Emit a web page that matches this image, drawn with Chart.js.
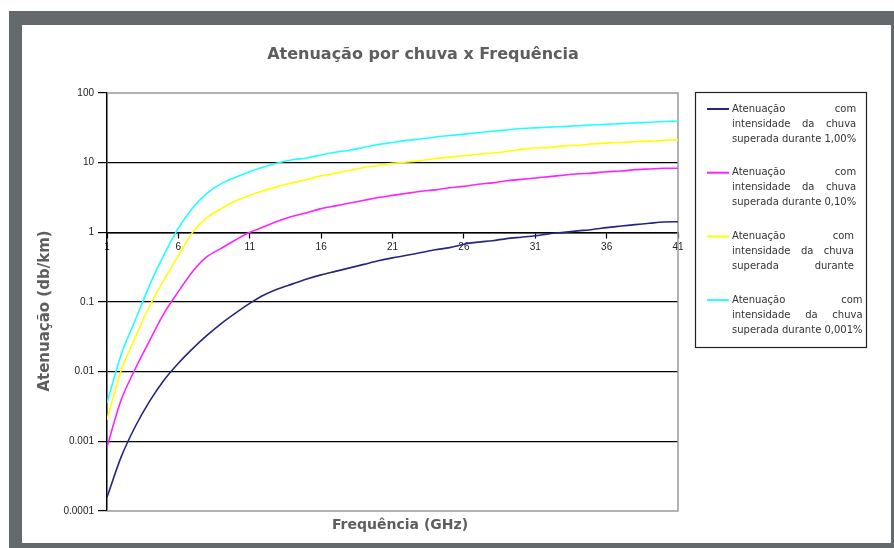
<!DOCTYPE html>
<html>
<head>
<meta charset="utf-8">
<script src="https://cdn.jsdelivr.net/npm/chart.js@4.4.0/dist/chart.umd.min.js"></script>
<style>
    html, body { margin: 0; padding: 0; background: #fff; }
    #moldura {
        position: absolute; left: 9px; top: 11px; width: 885px; height: 537px;
        box-sizing: border-box; border-style: solid; border-color: #646a6b;
        border-width: 14px 3px 5px 13px; background: #fff;
    }
    #grafico { position: absolute; left: 0; top: 0; }
</style>
</head>
<body>
<div id="moldura"></div>
<canvas id="grafico" width="894" height="548"></canvas>
<script>
// frequencia (GHz) 1..41
const frequencias = [1, 2, 3, 4, 5, 6, 7, 8, 9, 10, 11, 12, 13, 14, 15, 16, 17, 18, 19, 20, 21,
    22, 23, 24, 25, 26, 27, 28, 29, 30, 31, 32, 33, 34, 35, 36, 37, 38, 39, 40, 41];

// atenuacao (dB/km) para cada percentagem de tempo
const atenuacao_1 = [0.000158, 0.000603, 0.00166, 0.0038, 0.00759, 0.0132, 0.0214, 0.0331, 0.0490, 0.0692,
    0.0955, 0.126, 0.155, 0.182, 0.214, 0.245, 0.275, 0.309, 0.347, 0.390, 0.430, 0.468, 0.513, 0.562,
    0.603, 0.676, 0.724, 0.759, 0.813, 0.851, 0.891, 0.955, 1.00, 1.05, 1.10, 1.17, 1.23, 1.29, 1.35, 1.41, 1.42];
const atenuacao_01 = [0.00083, 0.00398, 0.0112, 0.0282, 0.0692, 0.141, 0.275, 0.447, 0.589, 0.776,
    1.00, 1.20, 1.45, 1.70, 1.91, 2.19, 2.40, 2.63, 2.88, 3.16, 3.39, 3.63, 3.89, 4.07, 4.37, 4.57,
    4.90, 5.13, 5.50, 5.75, 6.03, 6.31, 6.61, 6.92, 7.08, 7.41, 7.59, 7.94, 8.13, 8.32, 8.32];
const atenuacao_001 = [0.00204, 0.0105, 0.0316, 0.0891, 0.209, 0.468, 1.00, 1.62, 2.19, 2.82,
    3.39, 3.98, 4.57, 5.13, 5.75, 6.46, 7.08, 7.76, 8.51, 9.12, 9.77, 10.2, 10.7, 11.5, 12.0, 12.6,
    13.2, 13.8, 14.5, 15.5, 16.2, 16.6, 17.4, 17.8, 18.6, 19.1, 19.5, 20.0, 20.4, 20.9, 21.4];
const atenuacao_0001 = [0.00355, 0.0178, 0.0562, 0.178, 0.479, 1.15, 2.24, 3.63, 5.01, 6.17,
    7.41, 8.71, 10.0, 11.0, 11.7, 12.9, 14.1, 15.1, 16.6, 18.2, 19.5, 20.9, 21.9, 23.4, 24.5, 25.7,
    26.9, 28.2, 29.5, 30.9, 31.6, 32.4, 33.1, 33.9, 34.7, 35.5, 36.3, 37.2, 38.0, 38.9, 39.3];

const ticks_y = [0.0001, 0.001, 0.01, 0.1, 1, 10, 100];
const ticks_x = [1, 6, 11, 16, 21, 26, 31, 36, 41];

const legendas = [
    ["Atenuação com", "intensidade da chuva", "superada durante 1,00%"],
    ["Atenuação com", "intensidade da chuva", "superada durante 0,10%"],
    ["Atenuação com", "intensidade da chuva", "superada durante"],
    ["Atenuação com", "intensidade da chuva", "superada durante 0,001%"],
];
const cores = ["#262680", "#ff22ff", "#ffff00", "#22ffff"];

const series = [atenuacao_1, atenuacao_01, atenuacao_001, atenuacao_0001];

function justificado(ctx, texto, x, y, largura) {
    const palavras = texto.split(' ');
    if (palavras.length < 2) { ctx.fillText(texto, x, y); return; }
    const total = palavras.reduce((s, p) => s + ctx.measureText(p).width, 0);
    const espaco = (largura - total) / (palavras.length - 1);
    let cx = x;
    palavras.forEach(p => {
        ctx.fillText(p, cx, y);
        cx += ctx.measureText(p).width + espaco;
    });
}

const textos = {
    id: 'textos',
    beforeDatasetsDraw(chart) {
        const { ctx, chartArea } = chart;
        ctx.save();
        ctx.strokeStyle = '#9a9a9a';
        ctx.lineWidth = 1.5;
        ctx.beginPath();
        ctx.moveTo(chartArea.left, chartArea.top);
        ctx.lineTo(chartArea.right, chartArea.top);
        ctx.lineTo(chartArea.right, chartArea.bottom);
        ctx.lineTo(chartArea.left, chartArea.bottom);
        ctx.stroke();
        ctx.restore();
    },
    afterDraw(chart) {
        const ctx = chart.ctx;
        ctx.save();
        ctx.fillStyle = '#5e5e5e';
        ctx.textAlign = 'center';
        ctx.textBaseline = 'middle';
        ctx.font = 'bold 16px "DejaVu Sans"';
        ctx.fillText('Atenuação por chuva x Frequência', 423, 55);
        ctx.font = 'bold 14px "DejaVu Sans"';
        ctx.fillText('Frequência (GHz)', 400, 525);
        ctx.save();
        ctx.translate(45, 311);
        ctx.rotate(-Math.PI / 2);
        ctx.font = 'bold 15px "DejaVu Sans"';
        ctx.fillText('Atenuação (db/km)', 0, 0);
        ctx.restore();

        // legenda
        ctx.strokeStyle = '#222';
        ctx.lineWidth = 1.2;
        ctx.strokeRect(695.5, 92.5, 171, 255);
        ctx.font = '10px "DejaVu Sans"';
        ctx.textAlign = 'left';
        ctx.fillStyle = '#333';
        chart.data.datasets.forEach((ds, i) => {
            const y0 = 109 + i * 63.7;
            ctx.strokeStyle = ds.borderColor;
            ctx.lineWidth = 2;
            ctx.beginPath();
            ctx.moveTo(707, y0);
            ctx.lineTo(729, y0);
            ctx.stroke();
            const linhas = legendas[i];
            const largura = Math.max(122, ...linhas.map(l => ctx.measureText(l).width));
            linhas.forEach((l, j) => justificado(ctx, l, 732, y0 + j * 15, largura));
        });
        ctx.restore();
    }
};

new Chart(document.getElementById('grafico'), {
    type: 'line',
    data: {
        datasets: series.map((s, i) => ({
            label: legendas[i].join(' '),
            data: frequencias.map((f, k) => ({ x: f, y: s[k] })),
            borderColor: cores[i],
            borderWidth: 1.6,
            pointRadius: 0,
            tension: 0.3,
            fill: false,
        }))
    },
    options: {
        responsive: false,
        animation: false,
        layout: { padding: { left: 0, top: 93, right: 216, bottom: 37 } },
        plugins: { legend: { display: false }, title: { display: false }, tooltip: { enabled: false } },
        scales: {
            x: {
                type: 'linear',
                min: 1,
                max: 41,
                position: { y: 1 },
                afterBuildTicks: scale => { scale.ticks = ticks_x.map(v => ({ value: v })); },
                grid: { drawOnChartArea: false, tickLength: 5, tickColor: '#000', tickWidth: 1.2 },
                border: { display: true, color: '#000', width: 1.5 },
                ticks: {
                    autoSkip: false, maxRotation: 0, padding: 4, color: '#222',
                    font: { family: '"Liberation Sans", Arial', size: 10 }
                }
            },
            y: {
                type: 'logarithmic',
                min: 0.0001,
                max: 100,
                afterFit: scale => { scale.width = 107; },
                afterBuildTicks: scale => { scale.ticks = ticks_y.map(v => ({ value: v })); },
                grid: {
                    color: ctx => (ctx.tick && (ctx.tick.value === 100 || ctx.tick.value === 0.0001)) ? 'rgba(0,0,0,0)' : '#000',
                    lineWidth: 1.2, tickLength: 9, tickColor: '#000', tickWidth: 1.2
                },
                border: { display: true, color: '#000', width: 1.5 },
                ticks: {
                    padding: 4, color: '#222',
                    font: { family: '"Liberation Sans", Arial', size: 10 },
                    callback: v => String(v)
                }
            }
        }
    },
    plugins: [textos]
});
</script>
</body>
</html>
